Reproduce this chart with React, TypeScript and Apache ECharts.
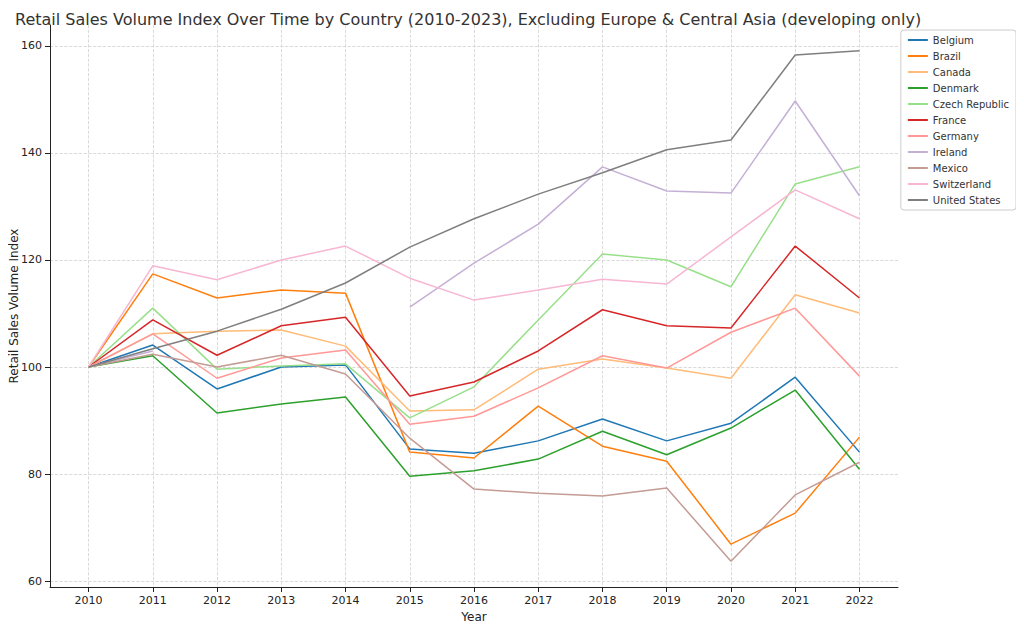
import * as echarts from 'echarts';
import { useEffect, useRef } from 'react';

const years = [2010, 2011, 2012, 2013, 2014, 2015, 2016, 2017, 2018, 2019, 2020, 2021, 2022];
const yTicks = [60, 80, 100, 120, 140, 160];

const belgium = [100, 104.1, 95.9, 100, 100.4, 84.7, 83.9, 86.2, 90.3, 86.2, 89.5, 98.1, 84.1];
const brazil = [100, 117.4, 112.9, 114.4, 113.8, 84.1, 83.0, 92.7, 85.2, 82.4, 66.9, 72.7, 86.9];
const canada = [100, 106.2, 106.7, 106.9, 103.9, 91.8, 92.0, 99.6, 101.5, 99.8, 97.9, 113.5, 110.1];
const denmark = [100, 102.1, 91.4, 93.1, 94.4, 79.6, 80.6, 82.8, 88.0, 83.6, 88.6, 95.7, 80.9];
const czech = [100, 111.0, 99.6, 100.2, 100.6, 90.5, 96.3, 108.8, 121.1, 120.0, 115.0, 134.2, 137.4];
const france = [100, 108.8, 102.2, 107.7, 109.3, 94.6, 97.2, 103.0, 110.7, 107.7, 107.3, 122.6, 112.9];
const germany = [100, 106.2, 97.9, 101.7, 103.2, 89.3, 90.8, 96.1, 102.1, 99.8, 106.5, 111.0, 98.3];
const ireland = [100, 103, null, null, null, 111.2, 119.4, 126.7, 137.4, 132.9, 132.5, 149.7, 132.0];
const mexico = [100, 102.4, 100, 102.2, 98.7, 86.7, 77.2, 76.4, 75.9, 77.4, 63.7, 76.1, 82.2];
const switzerland = [100, 118.9, 116.3, 120.0, 122.6, 116.6, 112.5, 114.4, 116.4, 115.5, 124.3, 133.1, 127.7];
const unitedStates = [100, 103.4, 106.7, 110.8, 115.7, 122.4, 127.7, 132.3, 136.3, 140.6, 142.4, 158.3, 159.1];

const seriesList: [string, (number | null)[], string][] = [
    ['Belgium', belgium, '#1f77b4'],
    ['Brazil', brazil, '#ff7f0e'],
    ['Canada', canada, '#ffbb78'],
    ['Denmark', denmark, '#2ca02c'],
    ['Czech Republic', czech, '#98df8a'],
    ['France', france, '#d62728'],
    ['Germany', germany, '#ff9896'],
    ['Ireland', ireland, '#c5b0d5'],
    ['Mexico', mexico, '#c49c94'],
    ['Switzerland', switzerland, '#f7b6d2'],
    ['United States', unitedStates, '#7f7f7f'],
];

const App = () => {
    const divRef = useRef<HTMLDivElement>(null);

    useEffect(() => {
        const chart = echarts.init(divRef.current!, null, { renderer: 'svg' });
        const font = 'DejaVu Sans';
        const split = { show: true, lineStyle: { color: '#d0d0d0', type: 'dashed' as const, width: 0.8 } };
        chart.setOption({
            animation: false,
            textStyle: { fontFamily: font },
            title: {
                text: 'Retail Sales Volume Index Over Time by Country (2010-2023), Excluding Europe & Central Asia (developing only)',
                left: 2, top: -2,
                textStyle: { fontFamily: font, fontSize: 16, fontWeight: 'normal', color: '#333' },
            },
            legend: {
                orient: 'vertical', right: 0, top: 22,
                borderColor: '#ccc', borderWidth: 1, borderRadius: 3, padding: [5, 7],
                itemWidth: 20, itemHeight: 2, itemGap: 6,
                icon: 'rect',
                textStyle: { fontFamily: font, fontSize: 10, color: '#333' },
                data: seriesList.map(s => s[0]),
            },
            grid: { left: 42, right: 118, top: 17, bottom: 39, outerBoundsMode: 'none' },
            xAxis: {
                type: 'value', min: 2009.4, max: 2022.6,
                name: 'Year', nameLocation: 'middle', nameGap: 24, nameMoveOverlap: false,
                nameTextStyle: { fontFamily: font, fontSize: 12, color: '#222' },
                axisLine: { lineStyle: { color: '#222' } },
                axisTick: { show: true, customValues: years, lineStyle: { color: '#222' } },
                axisLabel: { customValues: years, color: '#222', fontSize: 11, formatter: (v: number) => String(v) },
                splitLine: split,
            },
            yAxis: {
                type: 'value', min: 58.9, max: 163.9,
                name: 'Retail Sales Volume Index', nameLocation: 'middle', nameGap: 30, nameMoveOverlap: false,
                nameTextStyle: { fontFamily: font, fontSize: 12, color: '#222' },
                axisLine: { show: true, lineStyle: { color: '#222' } },
                axisTick: { show: true, customValues: yTicks, lineStyle: { color: '#222' } },
                axisLabel: { customValues: yTicks, color: '#222', fontSize: 11 },
                splitLine: split,
            },
            series: seriesList.map(([name, vals, color]) => ({
                name, type: 'line', showSymbol: false, symbol: 'none',
                data: vals.map((v, i) => [years[i], v]),
                lineStyle: { color, width: 1.5 }, itemStyle: { color },
                connectNulls: false,
            })),
        });
        return () => chart.dispose();
    }, []);

    return <div ref={divRef} style={{ width: 1008, height: 618 }} />;
};

export default App;
